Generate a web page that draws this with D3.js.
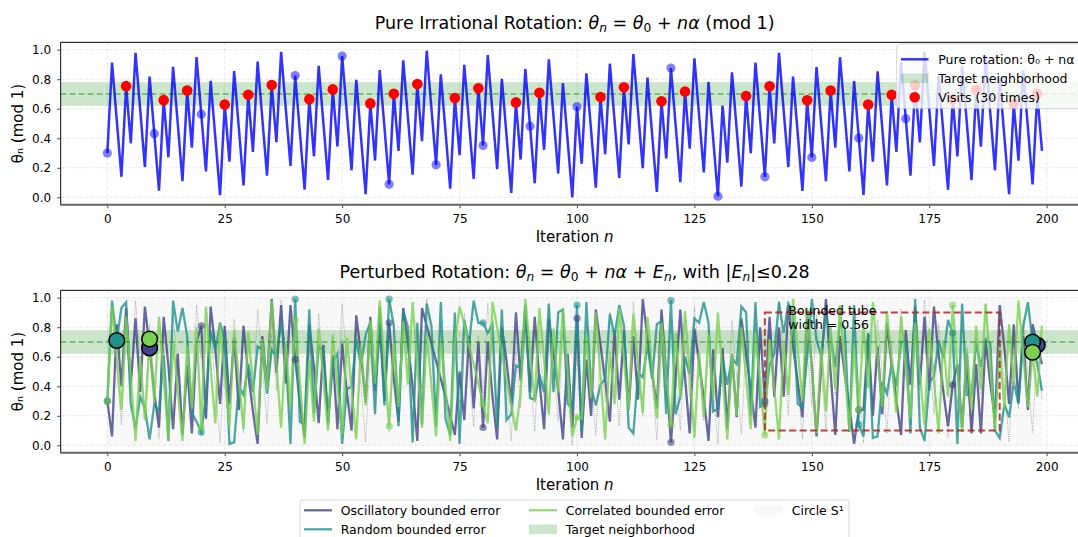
<!DOCTYPE html>
<html><head><meta charset="utf-8">
<script src="https://cdn.jsdelivr.net/npm/d3@7"></script>
<style>body{margin:0;background:#fff} svg{display:block} text{font-family:"DejaVu Sans",sans-serif;fill:#000}</style>
</head><body><svg id="c" width="1078" height="537"></svg>
<script>
// ---------------- DATA ----------------
const iterations = d3.range(0, 200);
const pureTheta = [.300,.913,.526,.139,.753,.366,.979,.592,.205,.818,.431,.045,.658,.271,.884,.497,.110,.723,.337,.950,
.563,.176,.789,.402,.015,.628,.242,.855,.468,.081,.694,.307,.920,.534,.147,.760,.373,.986,.599,.212,
.825,.439,.052,.665,.278,.891,.504,.117,.731,.344,.957,.570,.183,.796,.409,.022,.636,.249,.862,.475,
.088,.701,.314,.928,.541,.154,.767,.380,.993,.606,.220,.833,.446,.059,.672,.285,.898,.511,.125,.738,
.351,.964,.577,.190,.803,.417,.030,.643,.256,.869,.482,.095,.708,.322,.935,.548,.161,.774,.387,.000,
.614,.227,.840,.453,.066,.679,.292,.905,.519,.132,.745,.358,.971,.584,.197,.811,.424,.037,.650,.263,
.876,.489,.102,.716,.329,.942,.555,.168,.781,.394,.008,.621,.234,.847,.460,.073,.686,.299,.913,.526,
.139,.752,.365,.978,.591,.205,.818,.431,.044,.657,.270,.883,.497,.110,.723,.336,.949,.562,.175,.788,
.402,.015,.628,.241,.854,.467,.080,.694,.307,.920,.533,.146,.759,.372,.985,.599,.212,.825,.438,.051,
.664,.277,.891,.504,.117,.730,.343,.956,.569,.183,.796,.409,.022,.635,.248,.861,.474,.088,.701,.314];
const visitIndices = [4,12,17,25,30,35,43,48,56,61,66,74,79,87,92,105,110,118,123,136,141,149,154,162,167,172,180,185,193,198];
const oscillatory = [.30,.06,.82,.40,.93,.41,.86,.36,.94,.66,.35,.12,.87,.54,.11,.62,.07,.54,.08,.70,
.81,.18,.94,.65,.28,.81,.28,.73,.24,.81,.48,.23,.01,.74,.42,.99,.49,.95,.42,.95,
.58,.29,.05,.82,.53,.15,.68,.16,.61,.11,.69,.36,.10,.88,.62,.29,.87,.37,.82,.30,
.83,.45,.16,.93,.69,.40,.03,.93,.81,.69,.57,.45,.33,.20,.07,.50,.17,.74,.25,.70,
.12,.70,.33,.04,.80,.57,.28,.90,.44,.91,.36,.87,.44,.11,.86,.63,.37,.04,.62,.12,
.86,.05,.58,.20,.92,.68,.44,.16,.78,.31,.78,.24,.74,.31,.99,.73,.50,.25,.92,.49,
.02,.45,.92,.46,.08,.79,.56,.32,.03,.65,.19,.66,.11,.62,.19,.86,.61,.38,.12,.80,
.30,.87,.33,.80,.33,.95,.67,.43,.19,.91,.53,.06,.54,.99,.49,.07,.74,.48,.26,.01,
.24,.24,.75,.20,.67,.21,.83,.54,.31,.07,.78,.41,.94,.41,.87,.37,.94,.61,.36,.13,
.41,.55,.12,.62,.08,.55,.08,.71,.42,.18,.95,.66,.28,.82,.29,.74,.24,.82,.68,.55];
const randomErr = [.30,.98,.71,.93,.97,.28,.11,.33,.25,.04,.28,.23,.61,.03,.98,.77,.93,.74,.22,.16,
.09,.33,.77,.64,.83,.71,.01,.02,.40,.34,.55,.36,.67,.65,.35,.65,.60,.83,.61,.01,
.99,.16,.14,.92,.22,.67,.64,.15,.56,.62,.01,.38,.40,.72,.54,.75,.83,.21,.94,.27,
.99,.81,.13,.91,.80,.02,.83,.14,.96,.81,.13,.97,.18,.07,.90,.01,.85,.68,.98,.83,
.83,.76,.82,.12,.92,.17,.21,.54,.53,.95,.32,.31,.48,.36,.96,.36,.90,.92,.28,.25,
.95,.09,.97,.39,.27,.41,.45,.89,.74,.95,.81,.12,.08,.49,.46,.68,.45,.82,.84,.21,
.98,.21,.33,.60,.48,.86,.83,.97,.83,.23,.25,.59,.41,.59,.55,.94,.90,.20,.97,.26,
.28,.54,.62,.97,.76,.96,.90,.28,.26,.60,.99,.71,.61,.88,.74,.53,.83,.80,.09,.95,
.14,.06,.76,.05,.06,.43,.35,.55,.40,.70,.71,.08,.99,.12,.03,.42,.47,.71,.59,.85,
.76,.01,.96,.34,.34,.70,.53,.72,.69,.10,.05,.28,.19,.43,.28,.80,.97,.70,.55,.37];
const correlated = [.30,.94,.59,.24,.87,.46,.03,.60,.17,.72,.29,.87,.46,.05,.70,.37,.03,.67,.25,.80,
.12,.94,.52,.15,.82,.47,.13,.78,.45,.11,.77,.43,.07,.72,.38,.98,.55,.12,.69,.26,
.85,.43,.01,.58,.16,.79,.44,.10,.75,.41,.07,.73,.38,.04,.68,.27,.85,.42,.98,.56,
.13,.70,.26,.84,.41,.97,.55,.12,.75,.41,.06,.71,.38,.03,.69,.94,.82,.68,.55,.42,
.28,.15,.97,.80,.62,.45,.27,.10,.36,.99,.64,.29,.93,.57,.21,.79,.36,.93,.50,.06,
.19,.18,.75,.32,.90,.47,.04,.64,.28,.93,.58,.24,.89,.55,.22,.87,.52,.18,.83,.48,
.14,.76,.33,.91,.48,.05,.63,.19,.75,.32,.90,.47,.04,.62,.20,.80,.46,.11,.76,.42,
.07,.72,.39,.04,.69,.34,.99,.65,.30,.93,.51,.08,.66,.23,.80,.38,.95,.52,.10,.67,
.24,.81,.39,.97,.60,.26,.91,.56,.22,.87,.52,.18,.83,.48,.14,.79,.44,.08,.71,.33,
.95,.52,.09,.66,.24,.81,.38,.96,.53,.10,.68,.25,.82,.40,.98,.61,.26,.63,.33,.81];
const seriesNames = ["Oscillatory bounded error","Random bounded error","Correlated bounded error"];
const yTicks = [0,0.2,0.4,0.6,0.8,1.0];
const xTicks = [0,25,50,75,100,125,150,175,200];
const targetCenter = 0.7, targetEps = 0.08;
const errorBound = 0.28;
const tubeX = [140,190], tubeY = [0.1,0.9];

// ---------------- LAYOUT ----------------
const svg = d3.select("#c");
const TICKF = 12, LEGF = 12.5, LABF = 15, TITF = 17.5;
const x = d3.scaleLinear().domain([-9.95,208.95]).range([60.6,1088.7]);
const panels = [{top:42.3,bottom:204.7},{top:290.3,bottom:452.7}];
const ys = panels.map(p => d3.scaleLinear().domain([-0.05,1.05]).range([p.bottom,p.top]));
const solid = ["#414487","#21918c","#7ad151"];

const defs = svg.append("defs");
panels.forEach((p,i)=>{
  defs.append("clipPath").attr("id","clip"+i).append("rect")
    .attr("x",x.range()[0]).attr("y",p.top).attr("width",x.range()[1]-x.range()[0]).attr("height",p.bottom-p.top);
});

function rich(g, px, py, parts, size, anchor){
  const t = g.append("text").attr("x",px).attr("y",py).attr("font-size",size).attr("text-anchor",anchor||"middle");
  let shifted = 0;
  parts.forEach(p=>{
    const ts = t.append("tspan").text(p.t);
    if(p.i) ts.attr("font-style","italic");
    const want = p.sub ? size*0.22 : 0;
    if(want !== shifted){ ts.attr("dy", want - shifted); shifted = want; }
    if(p.sub) ts.attr("font-size", size*0.7);
  });
  return t;
}

function drawFrame(i){
  const y = ys[i], p = panels[i];
  const g = svg.append("g");
  g.selectAll(".gy").data(yTicks).join("line")
    .attr("x1",x.range()[0]).attr("x2",x.range()[1]).attr("y1",d=>y(d)).attr("y2",d=>y(d))
    .attr("stroke","#b0b0b0").attr("stroke-opacity",0.35).attr("stroke-width",0.8).attr("stroke-dasharray","4,2");
  g.selectAll(".gx").data(xTicks).join("line")
    .attr("y1",p.top).attr("y2",p.bottom).attr("x1",d=>x(d)).attr("x2",d=>x(d))
    .attr("stroke","#b0b0b0").attr("stroke-opacity",0.35).attr("stroke-width",0.8).attr("stroke-dasharray","4,2");
  return g;
}

function drawAxes(i){
  const y = ys[i], p = panels[i];
  const g = svg.append("g");
  const ax = g.append("g").attr("transform",`translate(0,${p.bottom})`)
    .call(d3.axisBottom(x).tickValues(xTicks).tickFormat(d3.format("d")).tickSize(3.5).tickPadding(6.5));
  const ay = g.append("g").attr("transform",`translate(${x.range()[0]},0)`)
    .call(d3.axisLeft(y).tickValues(yTicks).tickFormat(d3.format(".1f")).tickSize(3.5).tickPadding(6));
  [ax,ay].forEach(a=>{
    a.select(".domain").remove();
    a.selectAll("text").attr("font-size",TICKF).attr("font-family","DejaVu Sans").attr("fill","#000");
    a.selectAll("line").attr("stroke","#333").attr("stroke-width",0.9);
  });
  g.append("line").attr("x1",x.range()[0]).attr("x2",1078).attr("y1",p.top).attr("y2",p.top).attr("stroke","#000").attr("stroke-width",1);
  g.append("line").attr("x1",x.range()[0]).attr("x2",x.range()[0]).attr("y1",p.top).attr("y2",p.bottom).attr("stroke","#333").attr("stroke-width",1.2);
  g.append("line").attr("x1",x.range()[0]-0.6).attr("x2",1078).attr("y1",p.bottom).attr("y2",p.bottom).attr("stroke","#666").attr("stroke-width",2);
  const cx = (x.range()[0]+x.range()[1])/2;
  rich(g, cx, p.bottom+37, [{t:"Iteration "},{t:"n",i:1}], LABF);
  g.append("text").attr("transform",`translate(23,${(p.top+p.bottom)/2}) rotate(-90)`)
    .attr("text-anchor","middle").attr("font-size",LABF).text("θₙ (mod 1)");
}

function band(g,i){
  const y = ys[i];
  g.append("rect").attr("x",x.range()[0]).attr("width",x.range()[1]-x.range()[0])
    .attr("y",y(targetCenter+targetEps)).attr("height",y(targetCenter-targetEps)-y(targetCenter+targetEps))
    .attr("fill","green").attr("fill-opacity",0.2);
}
function targetLine(g,i){
  const y = ys[i];
  g.append("line").attr("x1",x.range()[0]).attr("x2",x.range()[1]).attr("y1",y(targetCenter)).attr("y2",y(targetCenter))
    .attr("stroke","green").attr("stroke-opacity",0.5).attr("stroke-width",1.6).attr("stroke-dasharray","6,3");
}

// ================= TOP PANEL =================
{
  const y = ys[0];
  drawFrame(0);
  const g = svg.append("g").attr("clip-path","url(#clip0)");
  band(g,0);
  targetLine(g,0);
  const line = d3.line().x((d,i)=>x(iterations[i])).y(d=>y(d));
  g.append("path").datum(pureTheta).attr("d",line).attr("fill","none")
    .attr("stroke","blue").attr("stroke-opacity",0.8).attr("stroke-width",2.5).attr("stroke-linejoin","miter");
  const mk = iterations.filter(n=>n%10===0);
  g.selectAll(".bm").data(mk).join("circle").attr("cx",n=>x(n)).attr("cy",n=>y(pureTheta[n])).attr("r",4.6)
    .attr("fill","blue").attr("fill-opacity",0.5);
  g.selectAll(".rv").data(visitIndices).join("circle").attr("cx",n=>x(n)).attr("cy",n=>y(pureTheta[n])).attr("r",5.3)
    .attr("fill","red");
  drawAxes(0);
  const L = svg.append("g");
  L.append("rect").attr("x",896.7).attr("y",43.8).attr("width",200).attr("height",64.5).attr("rx",3)
    .attr("fill","#fff").attr("fill-opacity",0.8).attr("stroke","#ccc").attr("stroke-width",0.8);
  const rows = [59.3,78.3,97.3];
  L.append("line").attr("x1",901).attr("x2",928.5).attr("y1",rows[0]).attr("y2",rows[0]).attr("stroke","blue").attr("stroke-opacity",0.8).attr("stroke-width",2.5);
  L.append("rect").attr("x",901).attr("width",27.5).attr("y",rows[1]-4.8).attr("height",9.6).attr("fill","green").attr("fill-opacity",0.2);
  L.append("circle").attr("cx",914.7).attr("cy",rows[2]).attr("r",5.3).attr("fill","red");
  const labels = ["Pure rotation: θ₀ + nα","Target neighborhood",`Visits (${visitIndices.length} times)`];
  labels.forEach((t,i)=>L.append("text").attr("x",938.3).attr("y",rows[i]).attr("dy","0.36em").attr("font-size",LEGF).text(t));
  rich(svg, (x.range()[0]+x.range()[1])/2, 28.5,
    [{t:"Pure Irrational Rotation: "},{t:"θ",i:1},{t:"n",i:1,sub:1},{t:" = "},{t:"θ",i:1},{t:"0",sub:1},{t:" + "},{t:"nα",i:1},{t:" (mod 1)"}], TITF);
}

// ================= BOTTOM PANEL =================
{
  const y = ys[1];
  drawFrame(1);
  const g = svg.append("g").attr("clip-path","url(#clip1)");
  g.append("rect").attr("x",x(0)).attr("width",x(199)-x(0)).attr("y",y(1)).attr("height",y(0)-y(1))
    .attr("fill","#808080").attr("fill-opacity",0.06);
  band(g,1);
  const line = d3.line().x((d,i)=>x(iterations[i])).y(d=>y(d));
  g.append("path").datum(pureTheta).attr("d",line).attr("fill","none")
    .attr("stroke","#707070").attr("stroke-opacity",0.7).attr("stroke-width",0.8).attr("stroke-dasharray","1,1.2");
  const series = [oscillatory, randomErr, correlated];
  series.forEach((s,k)=>{
    g.append("path").datum(s).attr("d",line).attr("fill","none")
      .attr("stroke",solid[k]).attr("stroke-opacity",0.8).attr("stroke-width",2.3).attr("stroke-linejoin","miter");
  });
  targetLine(g,1);
  series.forEach((s,k)=>{
    const mk = iterations.filter(n=>n%20===0);
    g.selectAll(".m"+k).data(mk).join("circle").attr("cx",n=>x(n)).attr("cy",n=>y(s[n])).attr("r",3.6)
      .attr("fill",solid[k]).attr("fill-opacity",0.6);
  });
  series.forEach((s,k)=>{
    const inside = iterations.filter(n=>Math.abs(s[n]-targetCenter)<targetEps);
    [inside[0], inside[inside.length-1]].forEach(n=>{
      g.append("circle").attr("cx",x(n)).attr("cy",y(s[n])).attr("r",7.8)
        .attr("fill",solid[k]).attr("stroke","#000").attr("stroke-width",1.5);
    });
  });
  g.append("rect").attr("x",x(tubeX[0])).attr("width",x(tubeX[1])-x(tubeX[0]))
    .attr("y",y(tubeY[1])).attr("height",y(tubeY[0])-y(tubeY[1]))
    .attr("fill","none").attr("stroke","#b22222").attr("stroke-opacity",0.85).attr("stroke-width",2).attr("stroke-dasharray","7,3.5");
  const tt = g.append("text").attr("x",x(145)).attr("y",y(0.95)).attr("font-size",LEGF).attr("fill","#8b0000");
  tt.append("tspan").attr("x",x(145)).attr("dy","0.8em").text("Bounded tube");
  tt.append("tspan").attr("x",x(145)).attr("dy","1.15em").text(`width = ${(2*errorBound).toFixed(2)}`);
  drawAxes(1);
  rich(svg, (x.range()[0]+x.range()[1])/2, 277.5,
    [{t:"Perturbed Rotation: "},{t:"θ",i:1},{t:"n",i:1,sub:1},{t:" = "},{t:"θ",i:1},{t:"0",sub:1},{t:" + "},{t:"nα",i:1},{t:" + "},{t:"E",i:1},{t:"n",i:1,sub:1},
     {t:", with |"},{t:"E",i:1},{t:"n",i:1,sub:1},{t:"|≤"+errorBound}], TITF);

  const L = svg.append("g");
  L.append("rect").attr("x",300).attr("y",500).attr("width",549).attr("height",50).attr("rx",3)
    .attr("fill","#fff").attr("fill-opacity",0.8).attr("stroke","#ccc").attr("stroke-width",0.8);
  const rows = [510.3,529.3];
  const cols = [304,529,755];
  const items = [
    {type:"line",c:solid[0],label:seriesNames[0],col:0,row:0},
    {type:"line",c:solid[1],label:seriesNames[1],col:0,row:1},
    {type:"line",c:solid[2],label:seriesNames[2],col:1,row:0},
    {type:"patch",c:"green",o:0.2,label:"Target neighborhood",col:1,row:1},
    {type:"patch",c:"#808080",o:0.06,label:"Circle S¹",col:2,row:0}
  ];
  items.forEach(it=>{
    const cx0 = cols[it.col], cy = rows[it.row];
    if(it.type==="line") L.append("line").attr("x1",cx0).attr("x2",cx0+28).attr("y1",cy).attr("y2",cy)
      .attr("stroke",it.c).attr("stroke-opacity",0.8).attr("stroke-width",2.3);
    else L.append("rect").attr("x",cx0).attr("width",28).attr("y",cy-4.8).attr("height",9.6).attr("fill",it.c).attr("fill-opacity",it.o);
    L.append("text").attr("x",cx0+36.7).attr("y",cy).attr("dy","0.36em").attr("font-size",LEGF).text(it.label);
  });
}
</script></body></html>
